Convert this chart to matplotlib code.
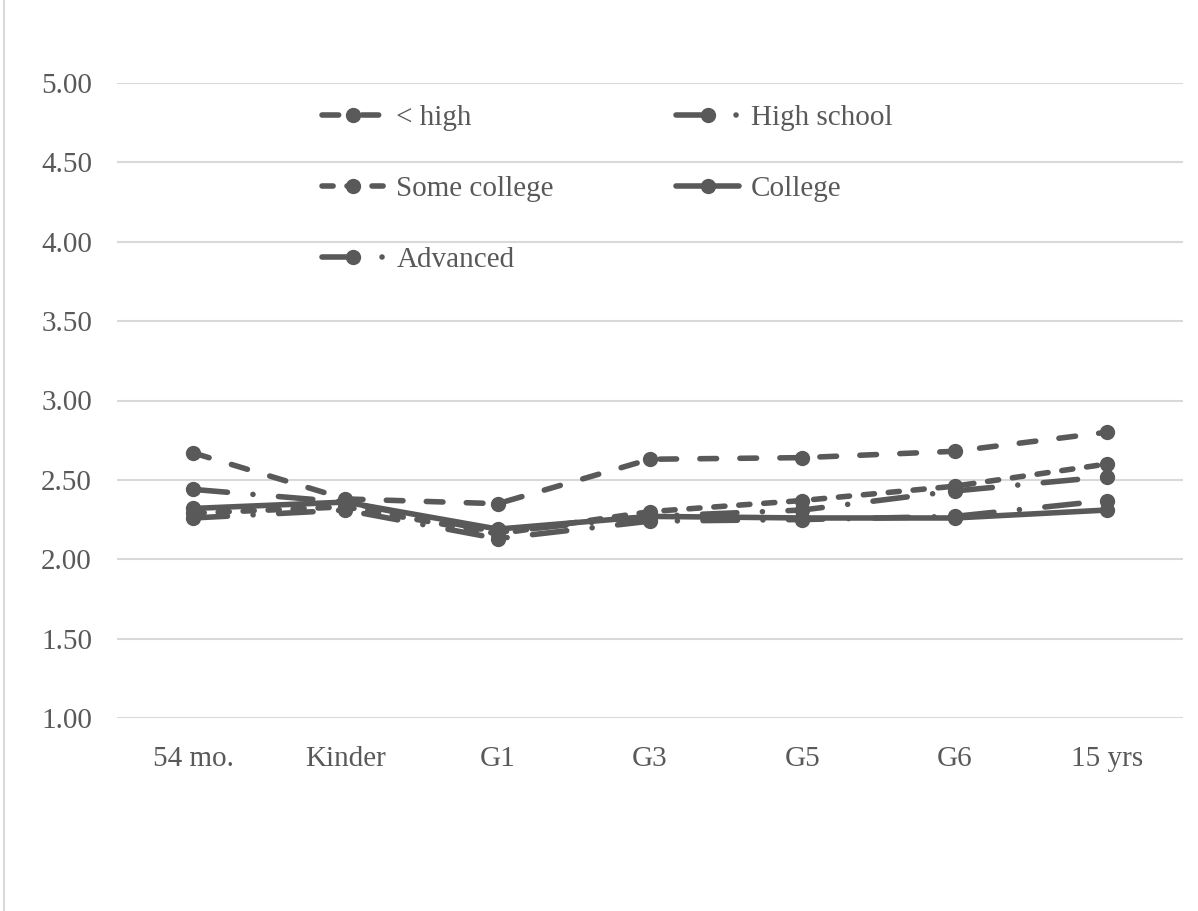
import matplotlib
matplotlib.use("Agg")
import matplotlib.pyplot as plt
from matplotlib.lines import Line2D

# waves of measurement
categories = ['54 mo.', 'Kinder', 'G1', 'G3', 'G5', 'G6', '15 yrs']

# mean scores by maternal education group
less_high = [2.67, 2.38, 2.35, 2.63, 2.64, 2.68, 2.80]
high_school = [2.44, 2.36, 2.17, 2.27, 2.31, 2.43, 2.52]
some_college = [2.29, 2.33, 2.16, 2.30, 2.37, 2.46, 2.60]
college = [2.32, 2.36, 2.19, 2.27, 2.26, 2.26, 2.31]
advanced = [2.26, 2.31, 2.13, 2.24, 2.25, 2.27, 2.37]

series_names = ['< high', 'High school', 'Some college', 'College', 'Advanced']

grey = '#595959'
grid_grey = '#d9d9d9'
fs = 21

plt.rcParams['font.family'] = ['Liberation Serif', 'DejaVu Serif']
plt.rcParams['font.size'] = fs

fig = plt.figure(figsize=(11.98, 9.11), dpi=100)
ax = fig.add_axes([117 / 1198, 1 - 718 / 911, (1183 - 117) / 1198, (718 - 83) / 911])

# line styles, in units of line width
styles = [
    (0, (3, 4.2)),                    # dash
    (0, (6.2, 4.6, 0.01, 4.6)),       # long dash dot
    (0, (2, 2.5)),                    # short dash
    '-',                              # solid
    (0, (6.2, 4.6, 0.01, 4.6)),       # long dash dot
]

xs = list(range(len(categories)))
lines = []
for vals, name, ls in zip([less_high, high_school, some_college, college, advanced],
                          series_names, styles):
    ln, = ax.plot(xs, vals, color=grey, lw=4, linestyle=ls, marker='o', markersize=10,
                  dash_capstyle='round', solid_capstyle='round', label=name)
    lines.append(ln)

ax.set_xlim(-0.5, len(categories) - 0.5)
ax.set_ylim(1, 5)
ax.set_yticks([1 + 0.5 * i for i in range(9)])
ax.set_yticklabels(['%.2f' % (1 + 0.5 * i) for i in range(9)])
ax.set_xticks(xs)
ax.set_xticklabels(categories)

ax.grid(axis='y', color=grid_grey, lw=1.5)
ax.set_axisbelow(True)
for s in ax.spines.values():
    s.set_visible(False)
ax.tick_params(axis='both', length=0, colors=grey, labelsize=fs)
ax.tick_params(axis='y', pad=18)
ax.tick_params(axis='x', pad=20)

# legend filled row by row: reorder for matplotlib's column filling
order = [0, 2, 4, 1, 3]
leg = ax.legend([lines[i] for i in order], [series_names[i] for i in order],
                ncol=2, loc='upper left', bbox_to_anchor=(205 / 1066, 0.966),
                frameon=False, handlelength=2.15, handletextpad=0.4,
                columnspacing=4.2, labelspacing=1.53, fontsize=fs, numpoints=1,
                borderaxespad=0, borderpad=0)
for t in leg.get_texts():
    t.set_color(grey)

# chart area border on the left
fig.add_artist(Line2D([4 / 1198, 4 / 1198], [0, 1], color=grid_grey, lw=1.5))

fig.savefig('out.png', dpi=100)
